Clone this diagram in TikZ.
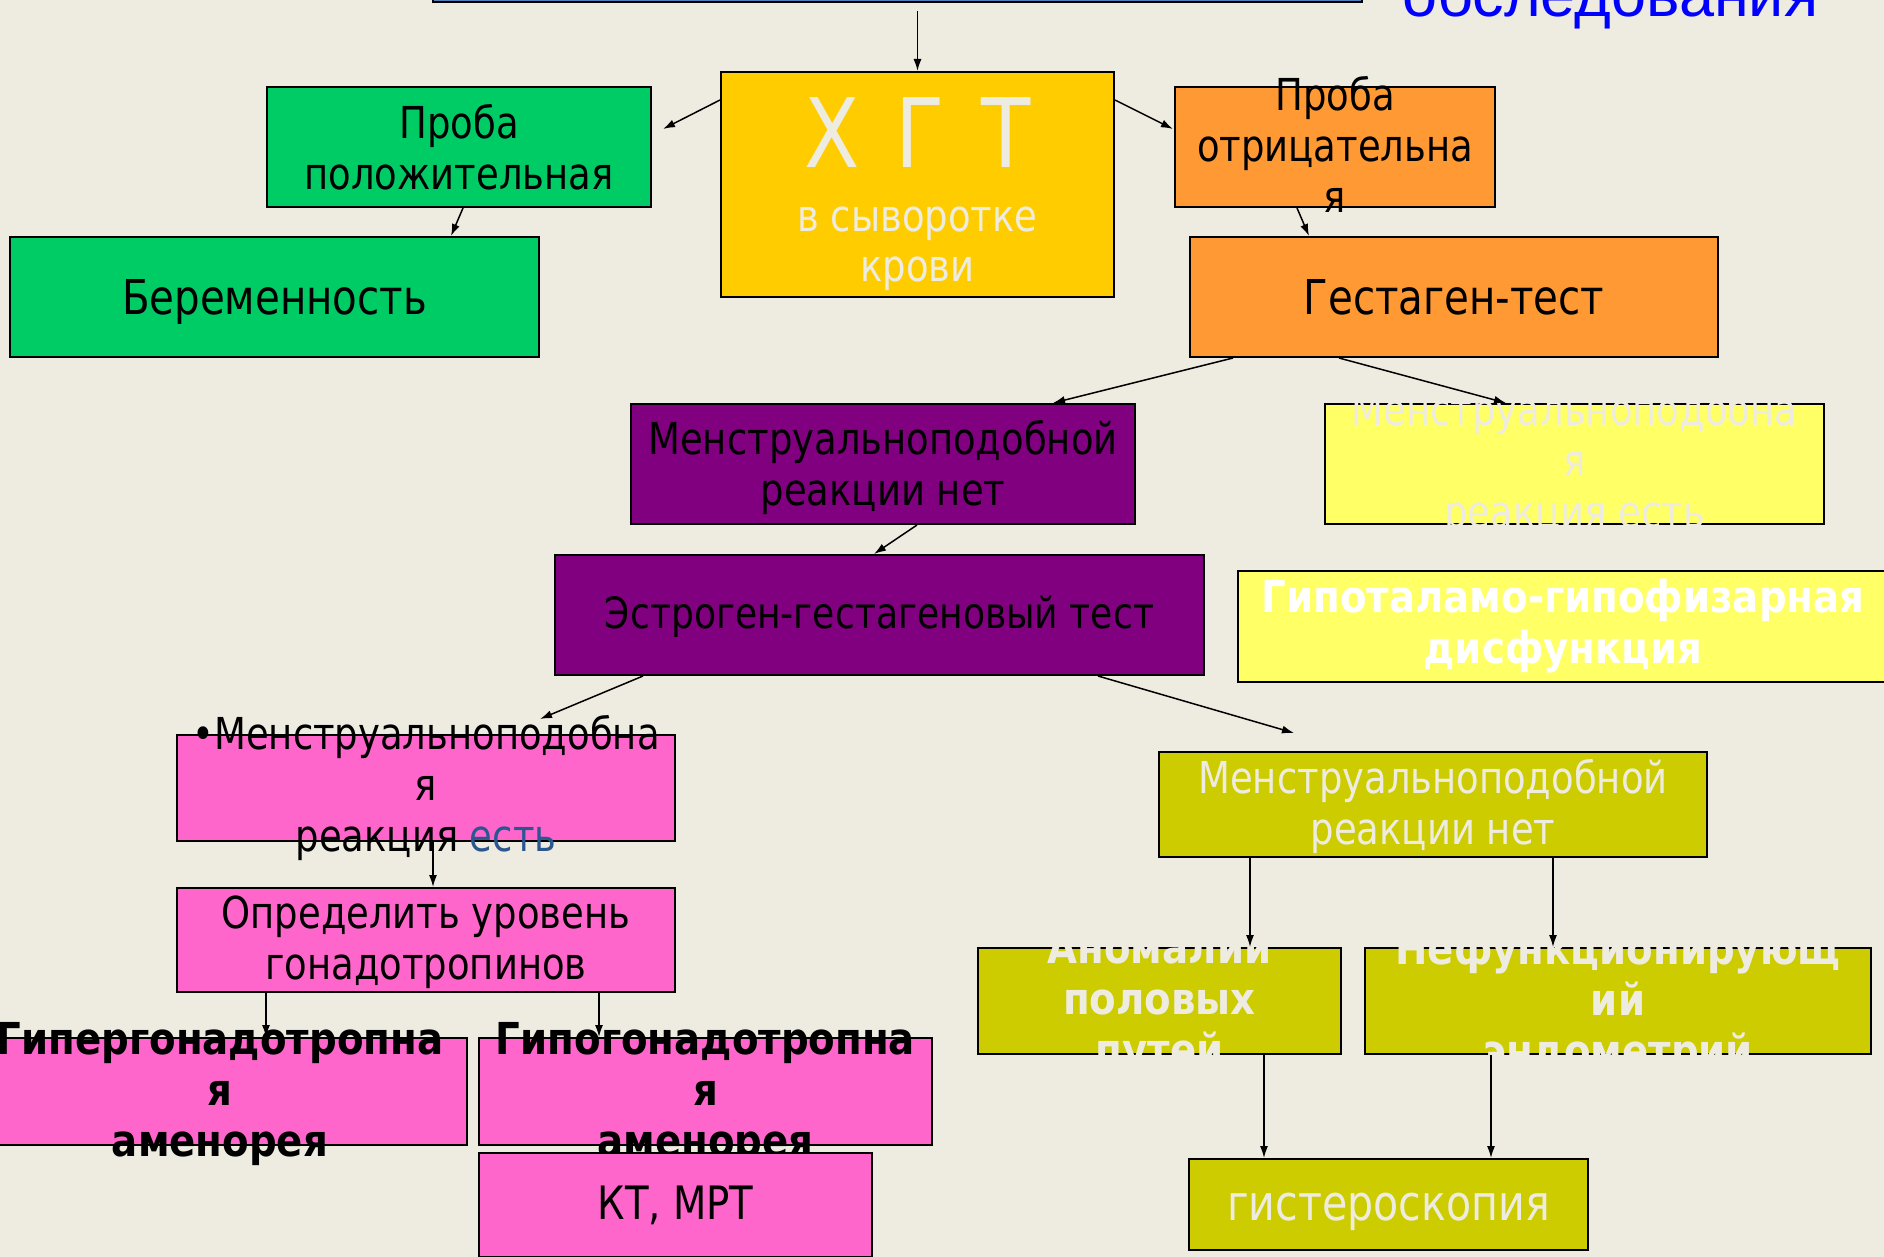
\documentclass[tikz,border=0pt]{standalone}
\usepackage{fontspec}
\setmainfont{DejaVu Sans}[FakeStretch=0.84, BoldFeatures={FakeStretch=0.88}]
\newfontfamily\arialfont{Liberation Sans}
\usetikzlibrary{positioning, calc, arrows.meta}
\definecolor{Paper}{HTML}{EEECE1}
\definecolor{Chalk}{HTML}{EEECE1}
\definecolor{Gold}{HTML}{FFCC00}
\definecolor{Grass}{HTML}{00CC66}
\definecolor{Tangerine}{HTML}{FF9933}
\definecolor{Plum}{HTML}{800080}
\definecolor{Lemon}{HTML}{FFFF66}
\definecolor{Rose}{HTML}{FF66CC}
\definecolor{Olive}{HTML}{CCCC00}
\definecolor{Steel}{HTML}{4F81BD}
\definecolor{Ink}{HTML}{2B5790}
\newcommand{\fsnorm}{\fontsize{44}{51}\selectfont}
\newcommand{\fsbig}{\fontsize{48}{56}\selectfont}
\tikzset{
    box/.style={rectangle, draw=black, line width=2pt, inner sep=0pt},
    size/.style 2 args={minimum width=#1pt, minimum height=#2pt},
    darktxt/.style={align=center, inner sep=0pt, text=black, font=\fsnorm},
    lighttxt/.style={align=center, inner sep=0pt, text=Chalk, font=\fsnorm},
    boldtxt/.style={align=center, inner sep=0pt, font=\fsnorm\bfseries},
    arrow/.style={-{Latex[length=12pt,width=8pt]}, line width=1.5pt, black},
}
\begin{document}
\begin{tikzpicture}[x=1pt, y=-1pt]
    \useasboundingbox (0,0) rectangle (1884,1257);
    \fill[Paper] (0,0) rectangle (1884,1257);
    \clip (0,0) rectangle (1884,1257);

    % Header, cut off by the page
    \node[box, fill=Steel, size={929}{62}] (top) at (897.5,-29) {};
    \node[anchor=base west, inner sep=0pt, text=blue, font=\arialfont\fontsize{63}{70}\selectfont] (topnote) at (1402,17) {обследования};

    % hCG
    \node[box, fill=Gold, size={393}{225}] (hgt) at (917.5,184.5) {};
    \node[lighttxt, anchor=base, font=\fontsize{96}{100}\selectfont] (hgt-a) at (917.5,168) {Х\hspace{36pt}Г\hspace{36pt}Т};
    \node[lighttxt, anchor=base] (hgt-b) at (917.5,232) {в сыворотке};
    \node[lighttxt, anchor=base] (hgt-c) at (917.5,282) {крови};

    \node[box, fill=Grass, size={384}{120}] (pos) at (459,147) {};
    \node[darktxt] (pos-t) at (pos) {Проба\\положительная};
    \node[box, fill=Grass, size={529}{120}] (preg) at (274.5,297) {};
    \node[darktxt, font=\fsbig] (preg-t) at ([yshift=-5pt]preg.center) {Беременность};

    \node[box, fill=Tangerine, size={320}{120}] (neg) at (1335,147) {};
    \node[darktxt] (neg-t) at ([yshift=3pt]neg.center) {Проба\\отрицательна\\я};
    \node[box, fill=Tangerine, size={528}{120}] (gest) at (1454,297) {};
    \node[darktxt, font=\fsbig] (gest-t) at (gest) {Гестаген-тест};

    % Progestin test outcomes
    \node[box, fill=Plum, size={504}{120}] (nonet) at (883,464) {};
    \node[darktxt] (nonet-t) at ([yshift=-3pt]nonet.center) {Менструальноподобной\\реакции нет};
    \node[box, fill=Lemon, size={499}{120}] (yes) at (1574.5,464) {};
    \node[lighttxt] (yes-t) at (yes) {Менструальноподобна\\я\\реакция есть};
    \node[box, fill=Lemon, size={650}{111}] (hypo) at (1563,626.5) {};
    \node[boldtxt, text=white] (hypo-t) at (hypo) {Гипоталамо-гипофизарная\\дисфункция};

    \node[box, fill=Plum, size={649}{120}] (estr) at (879.5,615) {};
    \node[darktxt, font=\fontsize{43}{48}\selectfont] (estr-t) at ([yshift=-2pt]estr.center) {Эстроген-гестагеновый тест};

    % Left branch
    \node[box, fill=Rose, size={498}{106}] (react) at (426,788) {};
    \node[darktxt] (react-t) at (react) {•Менструальноподобна\\я\\реакция \textcolor{Ink}{есть}};
    \node[box, fill=Rose, size={498}{104}] (gonad) at (426,940) {};
    \node[darktxt] (gonad-t) at ([yshift=-2pt]gonad.center) {Определить уровень\\гонадотропинов};
    \node[box, fill=Rose, size={494}{107}] (hyper) at (220,1091.5) {};
    \node[boldtxt] (hyper-t) at ([yshift=-3pt]hyper.center) {Гипергонадотропна\\я\\аменорея};
    \node[box, fill=Rose, size={453}{107}] (hypog) at (705.5,1091.5) {};
    \node[boldtxt] (hypog-t) at ([yshift=-3pt]hypog.center) {Гипогонадотропна\\я\\аменорея};
    \node[box, fill=Rose, size={393}{104}] (ct) at (675.5,1205) {};
    \node[darktxt, font=\fontsize{46}{52}\selectfont] (ct-t) at (ct) {КТ, МРТ};

    % Right branch
    \node[box, fill=Olive, size={548}{105}] (olnet) at (1433,804.5) {};
    \node[lighttxt] (olnet-t) at ([yshift=-2pt]olnet.center) {Менструальноподобной\\реакции нет};
    \node[box, fill=Olive, size={363}{106}] (anom) at (1159.5,1001) {};
    \node[boldtxt, text=Chalk] (anom-t) at ([yshift=-2pt]anom.center) {Аномалии\\половых\\путей};
    \node[box, fill=Olive, size={506}{106}] (nonf) at (1618,1001) {};
    \node[boldtxt, text=Chalk] (nonf-t) at ([yshift=-2pt]nonf.center) {Нефункционирующ\\ий\\эндометрий};
    \node[box, fill=Olive, size={399}{91}] (hyst) at (1388.5,1204.5) {};
    \node[lighttxt, font=\fontsize{49}{56}\selectfont] (hyst-t) at ([yshift=-7pt]hyst.center) {гистероскопия};

    % Arrows
    \draw[arrow] ([yshift=-8pt]hgt.north |- top.south) -- (hgt.north);
    \draw[arrow] ([yshift=-29pt]hgt.north west) -- ([xshift=11pt,yshift=-43pt]pos.north east);
    \draw[arrow] ([yshift=-29pt]hgt.north east) -- ([xshift=-1pt,yshift=-43pt]neg.north west);
    \draw[arrow] ([xshift=197pt]pos.south west) -- ([xshift=442pt]preg.north west);
    \draw[arrow] ([xshift=123pt]neg.south west) -- ([xshift=120pt]gest.north west);
    \draw[arrow] ([xshift=44pt]gest.south west) -- ([xshift=423pt]nonet.north west);
    \draw[arrow] ([xshift=150pt]gest.south west) -- ([xshift=182pt]yes.north west);
    \draw[arrow] ([xshift=287pt]nonet.south west) -- ([xshift=320pt]estr.north west);
    \draw[arrow] ([xshift=89pt]estr.south west) -- ([xshift=364pt,yshift=15pt]react.north west);
    \draw[arrow] ([xshift=544pt]estr.south west) -- ([xshift=136pt,yshift=18pt]olnet.north west);
    \draw[arrow] ([xshift=257pt]react.south west) -- ([xshift=257pt]gonad.north west);
    \draw[arrow] ([xshift=90pt]gonad.south west) -- ([xshift=294pt]hyper.north west);
    \draw[arrow] ([xshift=423pt]gonad.south west) -- ([xshift=121pt]hypog.north west);
    \draw[arrow] ([xshift=92pt]olnet.south west) -- ([xshift=273pt]anom.north west);
    \draw[arrow] ([xshift=395pt]olnet.south west) -- ([xshift=189pt]nonf.north west);
    \draw[arrow] ([xshift=287pt]anom.south west) -- ([xshift=76pt]hyst.north west);
    \draw[arrow] ([xshift=127pt]nonf.south west) -- ([xshift=303pt]hyst.north west);
\end{tikzpicture}
\end{document}
